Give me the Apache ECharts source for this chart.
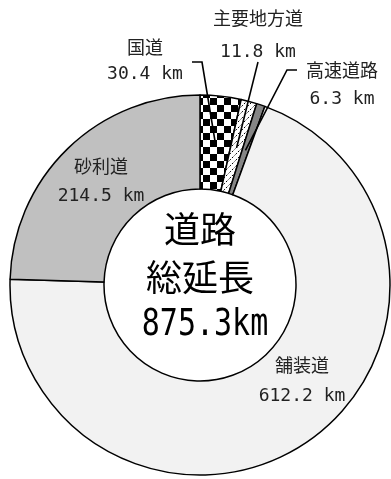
<!DOCTYPE html>
<html><head><meta charset="utf-8">
<script src="https://cdn.jsdelivr.net/npm/echarts@6/dist/echarts.min.js"></script>
<style>html,body{margin:0;padding:0;background:#fff}#c{width:391px;height:479px}</style>
</head><body><div id="c"></div>
<script>
// ---- data ----
const categories = ['国道', '主要地方道', '高速道路', '舗装道', '砂利道'];
const values = [30.4, 11.8, 6.3, 612.2, 214.5];
const unit = 'km';
const centerLines = ['道路', '総延長'];
const centerTotal = '875.3km';

// ---- layout / style ----
const CX = 200, CY = 285, R_IN = 96, R_OUT = 190, R_LINE = 142;
const FONT = "'DejaVu Sans Mono','Noto Sans CJK JP',sans-serif";
const labelPos = [
  {x: 145, y: 62, lh: 25, line: [[202, 62], [192, 62]]},
  {x: 258, y: 36, lh: 32, line: [[258, 62], [258, 62]]},
  {x: 342, y: 86, lh: 27, line: [[287, 70], [297, 70]]},
  {x: 302, y: 382, lh: 29},
  {x: 101, y: 182, lh: 28}
];

function makeChecker() {
  const c = document.createElement('canvas'); c.width = 14; c.height = 14;
  const g = c.getContext('2d');
  g.fillStyle = '#fff'; g.fillRect(0, 0, 14, 14);
  g.fillStyle = '#000'; g.fillRect(0, 0, 7, 7); g.fillRect(7, 7, 7, 7);
  return c;
}
function makeHatch() {
  const c = document.createElement('canvas'); c.width = 6; c.height = 6;
  const g = c.getContext('2d');
  g.fillStyle = '#fff'; g.fillRect(0, 0, 6, 6);
  g.strokeStyle = '#000'; g.lineWidth = 1;
  g.setLineDash([2, 1.5]);
  g.beginPath(); g.moveTo(-1, 7); g.lineTo(7, -1); g.stroke();
  return c;
}
const fills = [
  {image: makeChecker(), repeat: 'repeat'},
  {image: makeHatch(), repeat: 'repeat'},
  '#858585',
  '#f2f2f2',
  '#c0c0c0'
];

const total = values.reduce((a, b) => a + b, 0);
function midAngle(i) {
  let cum = 0;
  for (let k = 0; k < i; k++) cum += values[k];
  return (cum + values[i] / 2) / total * 2 * Math.PI;
}

const data = categories.map((name, i) => ({
  name, value: values[i],
  itemStyle: {color: fills[i]},
  label: {lineHeight: labelPos[i].lh}
}));

// leader lines (drawn above the sectors, start at each slice's mid-angle)
const leaders = [];
labelPos.forEach((L, i) => {
  if (!L.line) return;
  const a = midAngle(i);
  const s = [CX + R_LINE * Math.sin(a), CY - R_LINE * Math.cos(a)];
  leaders.push({
    type: 'polyline', z: 50, silent: true,
    shape: {points: [s, L.line[0], L.line[1]]},
    style: {stroke: '#000', lineWidth: 1.6, fill: null}
  });
});

const chart = echarts.init(document.getElementById('c'), null, {renderer: 'canvas'});
chart.setOption({
  backgroundColor: '#fff',
  animation: false,
  series: [{
    type: 'pie',
    silent: true,
    center: [CX, CY],
    radius: [R_IN, R_OUT],
    startAngle: 90,
    clockwise: true,
    avoidLabelOverlap: false,
    itemStyle: {borderColor: '#000', borderWidth: 1.5},
    label: {
      show: true, position: 'outside',
      formatter: p => p.name + '\n' + p.value.toFixed(1) + ' ' + unit,
      fontFamily: FONT, fontSize: 18, color: '#222', align: 'center'
    },
    labelLine: {show: false},
    labelLayout: function (p) {
      const L = labelPos[p.dataIndex];
      return {x: L.x, y: L.y, align: 'center', verticalAlign: 'middle'};
    },
    data
  }],
  graphic: leaders.concat([
    {
      type: 'text', x: CX, y: CY - 56, z: 60,
      style: {text: centerLines[0], textAlign: 'center', textVerticalAlign: 'middle',
              font: "36px 'Noto Sans CJK JP'", fill: '#000'}
    },
    {
      type: 'text', x: CX, y: CY - 8, z: 60,
      style: {text: centerLines[1], textAlign: 'center', textVerticalAlign: 'middle',
              font: "36px 'Noto Sans CJK JP'", fill: '#000'}
    },
    {
      type: 'text', x: CX + 5, y: CY + 40, z: 60, scaleY: 1.25,
      style: {text: centerTotal, textAlign: 'center', textVerticalAlign: 'middle',
              font: "30px 'DejaVu Sans Mono'", fill: '#000'}
    }
  ])
});
</script></body></html>
